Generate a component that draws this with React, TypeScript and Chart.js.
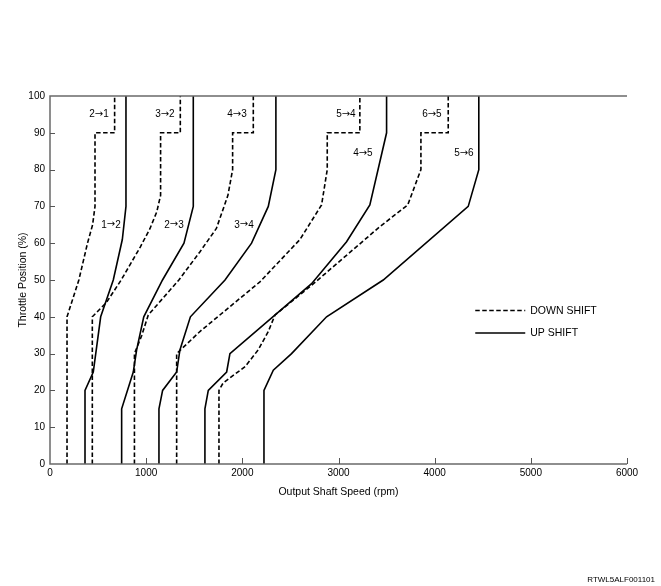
import React, { useEffect, useRef } from "react";
import { Chart, registerables } from "chart.js";

Chart.register(...registerables);

// ---- axis ----
const xMin = 0;
const xMax = 6000;
const xStep = 1000;
const yMin = 0;
const yMax = 100;
const yStep = 10;
const xTitle = "Output Shaft Speed (rpm)";
const yTitle = "Throttle Position (%)";
const codeText = "RTWL5ALF001101";

// ---- shift lines (rpm, throttle %) ----
const down21Rpm = [177, 177, 300, 390, 443, 468, 468, 672, 672];
const down21Thr = [0, 40, 50, 60, 65, 70, 90, 90, 100];

const up12Rpm = [364, 364, 450, 527, 658, 752, 790, 790];
const up12Thr = [0, 20, 25, 40, 50, 61, 70, 100];

const down32Rpm = [440, 440, 590, 740, 940, 1040, 1110, 1150, 1150, 1355, 1355];
const down32Thr = [0, 40, 44, 50, 59, 64, 68.5, 73, 90, 90, 100];

const up23Rpm = [745, 745, 866, 901, 975, 1170, 1393, 1490, 1490];
const up23Thr = [0, 15, 25, 31, 40, 50, 60, 70, 100];

const down43Rpm = [878, 878, 955, 1022, 1340, 1560, 1730, 1850, 1899, 1899, 2114, 2114];
const down43Thr = [0, 30, 35, 40.5, 50, 57.7, 64, 73, 80, 90, 90, 100];

const up34Rpm = [1133, 1133, 1171, 1317, 1351, 1460, 1820, 2096, 2270, 2349, 2349];
const up34Thr = [0, 15, 20, 25, 31, 40, 50, 60, 70, 80, 100];

const down54Rpm = [1317, 1317, 1559, 2183, 2599, 2824, 2883, 2883, 3222, 3222];
const down54Thr = [0, 30, 36, 49.5, 61, 70.4, 80, 90, 90, 100];

const up45Rpm = [1611, 1611, 1646, 1837, 1871, 2720, 3084, 3326, 3500, 3500];
const up45Thr = [0, 15, 20, 25, 30, 49, 60.4, 70.4, 90, 100];

const down65Rpm = [1757, 1757, 1800, 2030, 2165, 2270, 2340, 2740, 3430, 3720, 3857, 3857, 4141, 4141];
const down65Thr = [0, 20, 22, 26.5, 31, 36, 40.5, 49, 64.5, 70.4, 80, 90, 90, 100];

const up56Rpm = [2225, 2225, 2322, 2512, 2876, 3465, 4349, 4459, 4459];
const up56Thr = [0, 20, 25.5, 30, 40, 50, 70, 80, 100];

// ---- shift labels ----
const shiftLabels = ["2→1", "3→2", "4→3", "5→4", "6→5", "1→2", "2→3", "3→4", "4→5", "5→6"];
const shiftLabelRpm = [509, 1195, 1944, 3077, 3971, 634, 1289, 2017, 3254, 4304];
const shiftLabelThr = [95.1, 95.1, 95.1, 95.1, 95.1, 65, 65, 65, 84.5, 84.5];

const legendLabels = ["DOWN SHIFT", "UP SHIFT"];

const FONT = "'Liberation Sans', Arial, sans-serif";
const ARROW_FONT = "'DejaVu Sans', sans-serif";
const DASH = [4.5, 2.5];

const toPoints = (xs: number[], ys: number[]) => xs.map((x, i) => ({ x, y: ys[i] }));

const series = [
  { name: "2→1", rpm: down21Rpm, thr: down21Thr, down: true },
  { name: "1→2", rpm: up12Rpm, thr: up12Thr, down: false },
  { name: "3→2", rpm: down32Rpm, thr: down32Thr, down: true },
  { name: "2→3", rpm: up23Rpm, thr: up23Thr, down: false },
  { name: "4→3", rpm: down43Rpm, thr: down43Thr, down: true },
  { name: "3→4", rpm: up34Rpm, thr: up34Thr, down: false },
  { name: "5→4", rpm: down54Rpm, thr: down54Thr, down: true },
  { name: "4→5", rpm: up45Rpm, thr: up45Thr, down: false },
  { name: "6→5", rpm: down65Rpm, thr: down65Thr, down: true },
  { name: "5→6", rpm: up56Rpm, thr: up56Thr, down: false },
];

function drawShiftLabel(ctx: CanvasRenderingContext2D, text: string, cx: number, cy: number) {
  const parts = text.split("→");
  const textFont = `10px ${FONT}`;
  const arrowFont = `10px ${ARROW_FONT}`;
  ctx.font = textFont;
  const w0 = ctx.measureText(parts[0]).width;
  const w2 = ctx.measureText(parts[1]).width;
  ctx.font = arrowFont;
  const w1 = ctx.measureText("→").width;
  const total = w0 + w1 + w2;
  let x = cx - total / 2;
  ctx.textAlign = "left";
  ctx.textBaseline = "middle";
  ctx.font = textFont;
  ctx.fillText(parts[0], x, cy);
  x += w0;
  ctx.font = arrowFont;
  ctx.fillText("→", x, cy);
  x += w1;
  ctx.font = textFont;
  ctx.fillText(parts[1], x, cy);
}

const decorPlugin = {
  id: "decor",
  afterDraw(chart: any) {
    const { ctx, chartArea: a, scales } = chart;
    const xs = scales.x;
    const ys = scales.y;
    ctx.save();
    // frame
    ctx.strokeStyle = "#6a6a6a";
    ctx.lineWidth = 1.5;
    ctx.beginPath();
    ctx.moveTo(a.right, a.top);
    ctx.lineTo(a.left, a.top);
    ctx.lineTo(a.left, a.bottom);
    ctx.lineTo(a.right, a.bottom);
    ctx.stroke();
    // inward ticks
    ctx.strokeStyle = "#555";
    ctx.lineWidth = 1;
    ctx.beginPath();
    xs.ticks.forEach((t: any) => {
      if (t.value === xMin) return;
      const px = Math.round(xs.getPixelForValue(t.value)) + 0.5;
      ctx.moveTo(px, a.bottom);
      ctx.lineTo(px, a.bottom - 6);
    });
    ys.ticks.forEach((t: any) => {
      if (t.value === yMin || t.value === yMax) return;
      const py = Math.round(ys.getPixelForValue(t.value)) + 0.5;
      ctx.moveTo(a.left, py);
      ctx.lineTo(a.left + 5, py);
    });
    ctx.stroke();

    // shift labels
    ctx.fillStyle = "#000";
    shiftLabels.forEach((lbl, i) => {
      drawShiftLabel(ctx, lbl, xs.getPixelForValue(shiftLabelRpm[i]), ys.getPixelForValue(shiftLabelThr[i]));
    });

    // legend
    const lx0 = a.left + (a.right - a.left) * 0.737;
    const lx1 = lx0 + 50;
    const ly0 = a.top + (a.bottom - a.top) * 0.583;
    const lgap = 22.5;
    ctx.strokeStyle = "#000";
    ctx.lineWidth = 1.6;
    legendLabels.forEach((lbl, i) => {
      const y = ly0 + i * lgap;
      ctx.setLineDash(i === 0 ? DASH : []);
      ctx.beginPath();
      ctx.moveTo(lx0, y);
      ctx.lineTo(lx1, y);
      ctx.stroke();
      ctx.setLineDash([]);
      ctx.font = `10.5px ${FONT}`;
      ctx.textAlign = "left";
      ctx.textBaseline = "middle";
      ctx.fillText(lbl, lx1 + 5, y + 0.5);
    });

    // axis titles
    ctx.font = `10.5px ${FONT}`;
    ctx.textAlign = "center";
    ctx.textBaseline = "middle";
    ctx.fillText(xTitle, (a.left + a.right) / 2, a.bottom + 28);
    ctx.save();
    ctx.translate(23, (a.top + a.bottom) / 2);
    ctx.rotate(-Math.PI / 2);
    ctx.fillText(yTitle, 0, 0);
    ctx.restore();

    // code
    ctx.font = `8px ${FONT}`;
    ctx.textAlign = "right";
    ctx.fillText(codeText, chart.width - 6, chart.height - 6);
    ctx.restore();
  },
};

export default function App() {
  const ref = useRef<HTMLCanvasElement | null>(null);
  useEffect(() => {
    document.body.style.margin = "0";
    const canvas = ref.current;
    if (!canvas) return;
    const chart = new Chart(canvas, {
      type: "scatter",
      data: {
        datasets: series.map((s) => ({
          label: s.name,
          data: toPoints(s.rpm, s.thr),
          showLine: true,
          borderColor: "#000",
          backgroundColor: "#000",
          borderWidth: 1.6,
          borderDash: s.down ? DASH : [],
          pointRadius: 0,
          pointHoverRadius: 0,
          tension: 0,
          fill: false,
          clip: 4,
        })),
      },
      options: {
        animation: false,
        responsive: false,
        devicePixelRatio: 1,
        events: [],
        layout: { padding: { top: 96, right: 34, bottom: 0, left: 0 } },
        plugins: {
          legend: { display: false },
          tooltip: { enabled: false },
          title: { display: false },
        },
        scales: {
          x: {
            type: "linear",
            min: xMin,
            max: xMax,
            grid: { display: false, drawTicks: false },
            border: { display: false },
            ticks: {
              stepSize: xStep,
              padding: 3,
              color: "#000",
              font: { family: FONT, size: 10 },
              maxRotation: 0,
              callback: (v: any) => String(v),
            },
            afterFit: (scale: any) => {
              scale.height = 122;
            },
          },
          y: {
            type: "linear",
            min: yMin,
            max: yMax,
            grid: { display: false, drawTicks: false },
            border: { display: false },
            ticks: {
              stepSize: yStep,
              padding: 5,
              color: "#000",
              font: { family: FONT, size: 10 },
              callback: (v: any) => String(v),
            },
            afterFit: (scale: any) => {
              scale.width = 50;
            },
          },
        },
      },
      plugins: [decorPlugin],
    });
    return () => chart.destroy();
  }, []);
  return (
    <div style={{ width: 661, height: 586, background: "#fff" }}>
      <canvas ref={ref} width={661} height={586} style={{ display: "block" }} />
    </div>
  );
}
